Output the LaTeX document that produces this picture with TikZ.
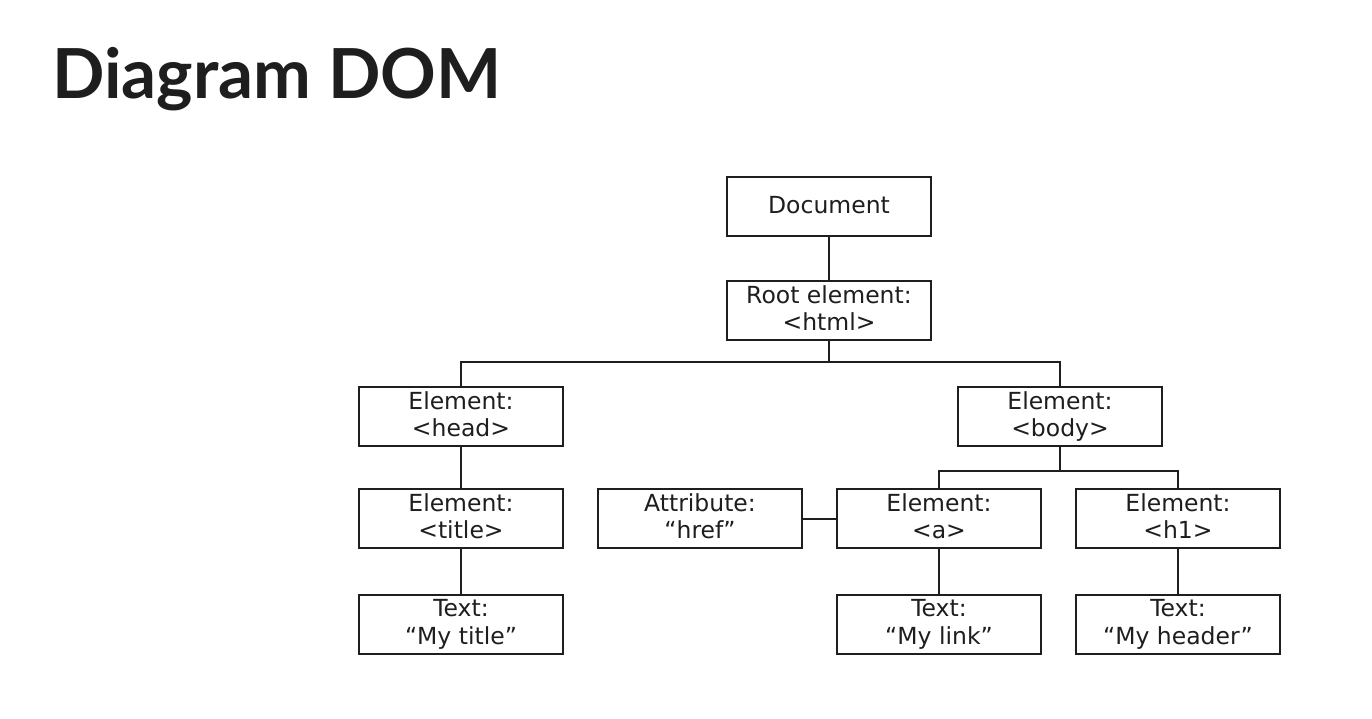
\documentclass[tikz,border=0pt]{standalone}
\usepackage{fontspec}
\setmainfont{DejaVu Sans}
\newfontfamily\titlefont{Lato}
\definecolor{ink}{HTML}{1E1E1E}
\newcommand{\boxstrut}{\rule[-4.5pt]{0pt}{23.5pt}}
\begin{document}
\begin{tikzpicture}[x=1pt,y=-1pt,
  box/.style={draw=ink, line width=2pt, minimum width=204pt, minimum height=59pt, inner sep=0pt,
    align=center, text=ink, font=\fontsize{23.5}{27.5}\selectfont,
    execute at begin node=\boxstrut, execute at end node=\boxstrut},
  link/.style={draw=ink, line width=2pt}]
\useasboundingbox[fill=white] (0,0) rectangle (1372,718);
\node[anchor=base west, text=ink, inner sep=0pt, font=\titlefont\bfseries\fontsize{69}{80}\selectfont] (title) at (52,98) {Diagram DOM};
\node[box] (doc) at (829,206.5) {Document};
\node[box] (root) at (829,310.5) {Root element:\\<html>};
\node[box] (head) at (461,416.5) {Element:\\<head>};
\node[box] (body) at (1060,416.5) {Element:\\<body>};
\node[box] (etitle) at (461,518.5) {Element:\\<title>};
\node[box] (attr) at (700,518.5) {Attribute:\\“href”};
\node[box] (ea) at (939,518.5) {Element:\\<a>};
\node[box] (eh1) at (1178,518.5) {Element:\\<h1>};
\node[box] (ttitle) at (461,624.5) {Text:\\“My title”};
\node[box] (tlink) at (939,624.5) {Text:\\“My link”};
\node[box] (theader) at (1178,624.5) {Text:\\“My header”};
\draw[link] (doc) -- (root);
\draw[link] (root.south) -- ++(0,21) -| (head.north);
\draw[link] (root.south) -- ++(0,21) -| (body.north);
\draw[link] (head) -- (etitle);
\draw[link] (etitle) -- (ttitle);
\draw[link] (body.south) -- ++(0,24) -| (ea.north);
\draw[link] (body.south) -- ++(0,24) -| (eh1.north);
\draw[link] (attr) -- (ea);
\draw[link] (ea) -- (tlink);
\draw[link] (eh1) -- (theader);
\end{tikzpicture}
\end{document}
